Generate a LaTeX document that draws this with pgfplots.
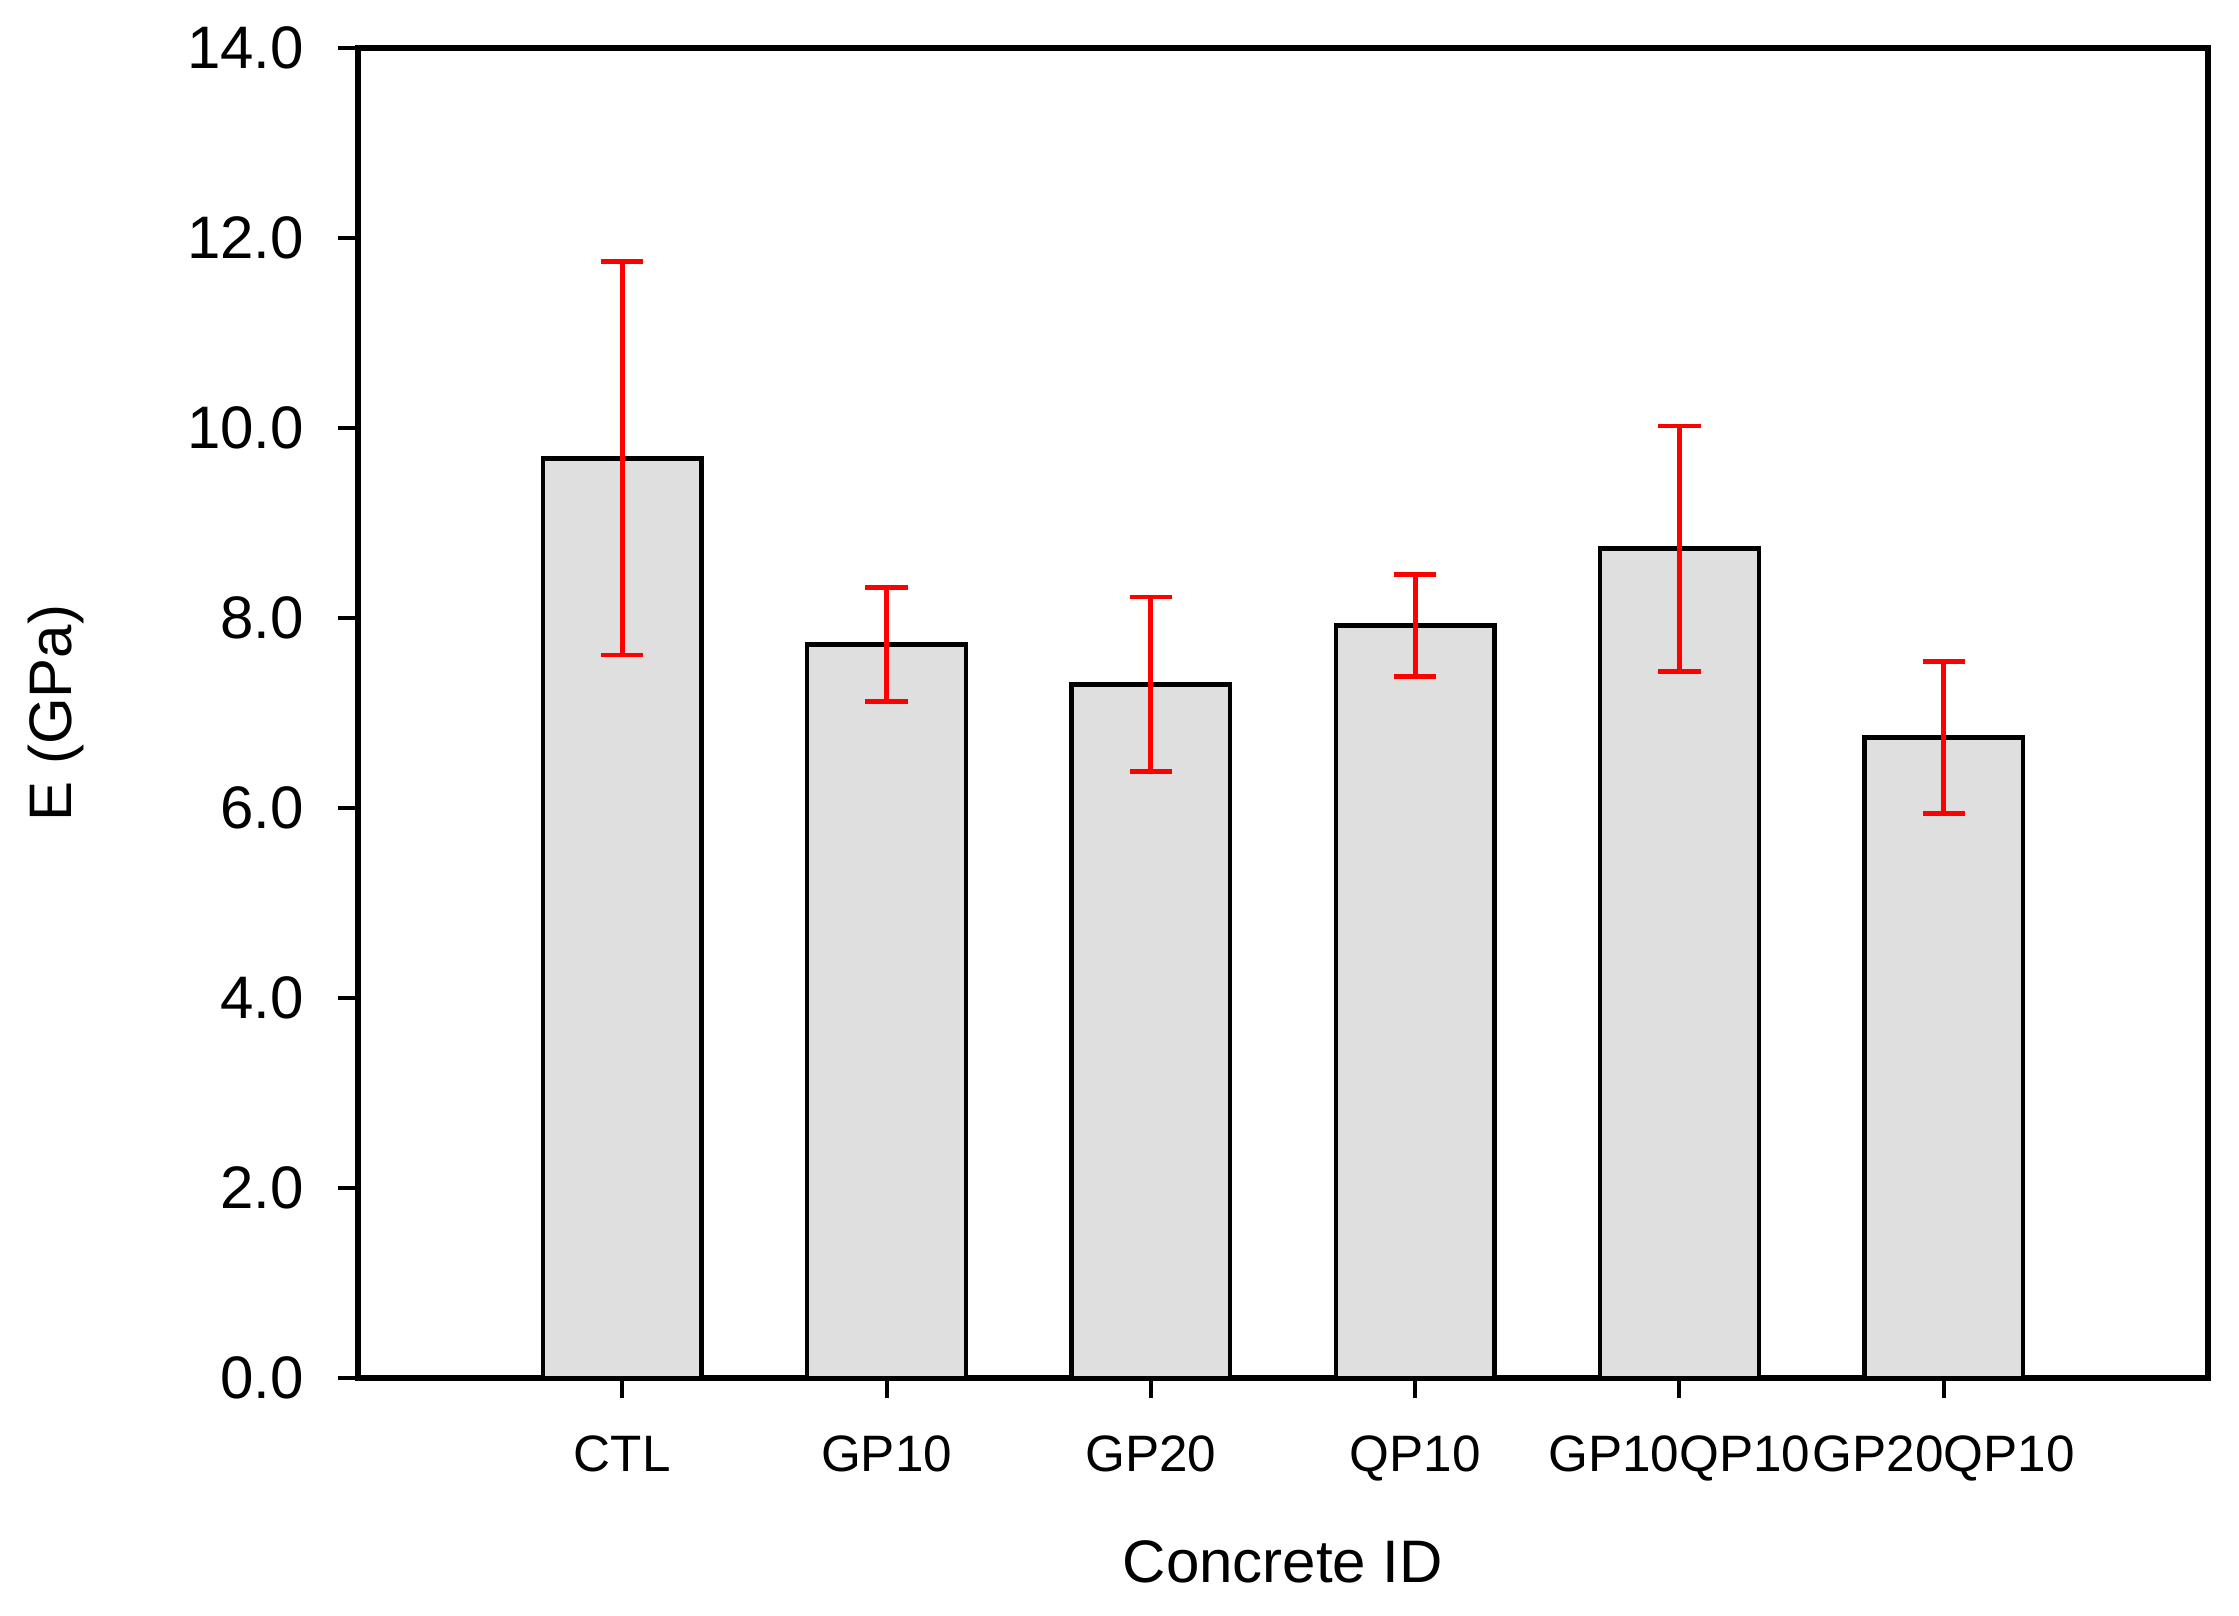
\documentclass[border=0pt]{standalone}
\usepackage{pgfplots}
\pgfplotsset{compat=1.18}
\usepackage{fontspec}
\setmainfont{Liberation Sans}
\definecolor{barfill}{RGB}{223,223,223}
\begin{document}
\begin{tikzpicture}
\useasboundingbox (-89.5pt,-59.5pt) rectangle (470.25pt,344.5pt);
\begin{axis}[
  at={(0,0)}, anchor=south west,
  scale only axis,
  width=462.5pt, height=332.5pt,
  xmin=-1, xmax=6,
  ymin=0, ymax=14,
  xtick={0,1,2,3,4,5},
  xticklabels={CTL,GP10,GP20,QP10,GP10QP10,GP20QP10},
  ytick={0,2,...,14},
  yticklabel style={/pgf/number format/fixed, /pgf/number format/fixed zerofill, /pgf/number format/precision=1},
  /pgf/number format/assume math mode=true,
  xtick pos=bottom, ytick pos=left,
  tick align=outside,
  major tick length=5pt,
  axis line style={line width=1.3pt},
  every tick/.style={black, line width=1pt},
  yticklabel style={font=\fontsize{15}{18}\selectfont, xshift=-5pt},
  xticklabel style={font=\fontsize{12.8}{15}\selectfont, yshift=-6pt},
  xlabel={Concrete ID},
  ylabel={E (GPa)},
  xlabel style={font=\fontsize{15}{18}\selectfont, at={(axis description cs:0.5,-0.1541)}, anchor=base},
  ylabel style={font=\fontsize{15}{18}\selectfont, at={(axis description cs:-0.1546,0.5)}, anchor=base},
  ybar, bar width=0.6,
]
\addplot[
  fill=barfill, draw=black, line width=1.1pt,
  error bars/.cd, y dir=both, y explicit,
  error bar style={red, line width=1.2pt},
  error mark options={rotate=90, mark size=5.3pt, red, line width=1.2pt},
] table[x=x, y=y, y error=e] {
x y e
0 9.68 2.07
1 7.72 0.60
2 7.30 0.92
3 7.92 0.54
4 8.73 1.29
5 6.74 0.80
};
\end{axis}
\end{tikzpicture}
\end{document}
